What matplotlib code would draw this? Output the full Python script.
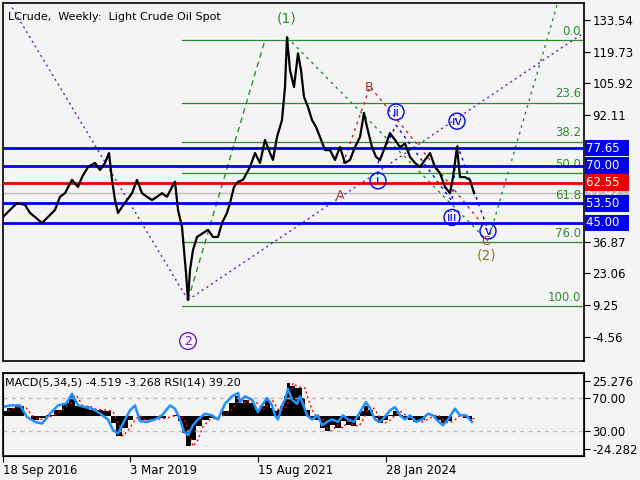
import matplotlib
matplotlib.use("Agg")
import matplotlib.pyplot as plt
import matplotlib.transforms as mtrans

# ---- data (x in weekly bar positions, price in USD) ----
px_x = [3,10,17,25,30,35,42,48,55,60,65,72,78,82,88,95,100,105,109,112,115,118,122,127,132,137,142,147,152,157,162,167,172,175,178,182,184,186,188,190,193,197,203,208,213,218,222,227,230,234,238,243,250,255,260,265,270,273,277,282,285,287,290,294,298,301,304,308,312,316,320,325,330,335,340,345,350,355,360,364,367,372,376,380,385,390,395,400,405,410,415,420,425,430,435,440,445,450,453,457,460,465,470,474]
price = [47.6,50.7,53.7,52.9,49.4,47.6,45.0,47.6,50.7,56.4,58.0,63.8,60.7,65.0,69.4,71.2,68.1,71.2,75.5,63.8,55.0,49.4,52.0,55.0,58.0,63.8,58.0,56.4,55.0,56.4,58.0,56.4,60.7,63.0,50.7,43.3,33.2,23.2,11.4,24.5,33.2,38.9,40.6,42.0,38.9,38.9,45.0,49.4,53.7,60.7,63.0,63.8,69.4,75.5,71.2,81.2,75.5,72.5,82.5,89.9,104.3,126.0,111.7,104.3,119.0,111.7,100.0,95.6,89.9,86.9,82.5,76.8,76.8,72.5,78.1,71.2,72.5,78.1,82.5,93.0,86.9,78.1,73.8,72.5,78.1,84.2,81.2,78.1,79.6,73.8,71.2,69.4,72.5,75.5,69.4,66.7,60.7,58.0,65.0,78.1,65.0,65.0,63.8,58.0]

ind_x = [3,10,20,27,35,42,50,58,66,72,78,85,92,98,108,113,118,125,130,135,140,147,155,162,170,175,180,184,188,193,198,205,212,218,225,232,238,240,245,252,258,262,267,272,275,278,282,285,288,292,297,300,303,307,312,318,322,327,332,338,343,348,354,358,362,366,370,375,380,386,390,395,400,405,410,416,422,428,433,438,443,448,455,460,466,472]
macd = [3.2,5.6,6.8,0,-2.9,-1.7,0.7,4.4,9.2,14.1,6.8,6.8,4.4,4.4,3.2,-5.3,-15,-9,-2.9,0,-2.9,-2.9,-2.4,-1.7,0,0.7,-4.1,-12.6,-22.4,-17.5,-7.8,-2.9,-1.7,0,3.2,9.2,14.1,9.2,11.7,9.2,4.4,6.8,11.7,5.6,3.2,4.4,6.8,14.1,23.8,21.4,20.2,20.2,12.9,4.4,-1.7,-2.9,-9,-11.4,-6.6,-9,-4.1,-6.6,-7.8,-2.9,3.2,6.8,4.4,-1.7,-5.3,-2.9,0.7,3.2,0.7,-1.7,-2.9,-4.9,-2.9,-0.5,0.7,-2.9,-5.3,-4.1,0,-0.5,-1.7,-2.9]
rsi = [59,61,61,47,41,39,51,61,63,75,61,59,57,53,44,31,27,44,55,61,42,41,44,49,61,57,44,29,25,37,44,51,49,44,63,72,76,65,72,68,53,61,70,61,49,44,61,68,81,68,63,72,63,49,44,49,37,41,44,41,49,44,41,49,57,65,57,44,41,49,55,59,49,44,49,41,44,51,49,42,37,44,57,49,49,41]

blue_levels = [77.65, 70.00, 53.50, 45.00]
red_level = 62.55
gray_level = 57.92
fib_hi, fib_lo = 124.8, 8.8
fib_ratios = [0.0, 23.6, 38.2, 50.0, 61.8, 76.0, 100.0]
price_ticks = [133.54, 119.73, 105.92, 92.11, 36.87, 23.06, 9.25, -4.56]
date_pos = [3, 130, 258, 386]
date_labels = ["18 Sep 2016", "3 Mar 2019", "15 Aug 2021", "28 Jan 2024"]

BG = "#f4f4f4"
W, H = 640, 480
fig = plt.figure(figsize=(6.4, 4.8), dpi=100, facecolor=BG)

def box(l, t, r, b):
    return [l / W, 1 - b / H, (r - l) / W, (b - t) / H]

ax = fig.add_axes(box(3, 3, 584, 361), facecolor=BG)
ax.set_xlim(3, 584)
ax.set_ylim(-15.2, 140.95)
for s in ax.spines.values():
    s.set_linewidth(1.2)
ax.yaxis.tick_right()
ax.set_yticks(price_ticks)
ax.set_yticklabels([f"{v:.2f}" for v in price_ticks], fontsize=8.5)
ax.tick_params(axis="y", length=4, pad=2)
ax.set_xticks([])

# fib lines
for r in fib_ratios:
    lv = fib_hi - (fib_hi - fib_lo) * r / 100
    ax.plot([182, 584], [lv, lv], color="#2e8b2e", lw=0.9, zorder=2)
    ax.text(581, lv + 1.0, f"{r:.1f}", color="#2e8b2e", fontsize=8.5, ha="right", va="bottom")

ax.axhline(gray_level, color="#bbbbbb", lw=1, zorder=2)
for lv in blue_levels:
    ax.axhline(lv, color="#0000ee", lw=2, zorder=3)
ax.axhline(red_level, color="#ee0000", lw=2, zorder=3)

ax.plot(px_x, price, color="black", lw=1.6, zorder=4)

# wave markup
ax.plot([12, 188], [139, 11.4], ls=(0, (1.5, 2.5)), color="#6a1fb0", lw=1)
ax.plot([188, 584], [11.4, 128], ls=(0, (1.5, 2.5)), color="#6a1fb0", lw=1)
ax.plot([188, 265], [11.4, 124.8], ls=(0, (4, 3)), color="#2e8b2e", lw=1)
ax.plot([287, 488], [126, 37], ls=(0, (2, 3)), color="#2e8b2e", lw=1)
ax.plot([490, 557], [40, 140], ls=(0, (2, 3)), color="#2e8b2e", lw=1)
ax.plot([343, 370, 487], [70.9, 104.5, 42.0], ls=(0, (2, 3)), color="#cc2222", lw=1)
ax.plot([378, 396, 452, 457, 488], [71.2, 87.7, 54.5, 79.4, 42.0], ls=(0, (2, 3)), color="#0000ee", lw=1)

circ = dict(boxstyle="circle,pad=0.12", fc="none", ec="#0000ee", lw=1)
for (xx, yy, t) in [(378, 63.4, "i"), (396, 93.4, "ii"), (452, 47.4, "iii"), (457, 89.4, "iv"), (488, 41.5, "v")]:
    ax.text(xx, yy, t, color="#0000ee", fontsize=9, ha="center", va="center", bbox=circ)
ax.text(188, -6.5, "2", color="#6a1fb0", fontsize=9, ha="center", va="center",
        bbox=dict(boxstyle="circle,pad=0.15", fc="none", ec="#6a1fb0", lw=1))
ax.text(287, 134, "(1)", color="#2e8b2e", fontsize=10, ha="center", va="center")
ax.text(487, 31, "(2)", color="#8b7a1a", fontsize=10, ha="center", va="center")
ax.text(340, 57, "A", color="#c04040", fontsize=9, ha="center", va="center")
ax.text(369, 104, "B", color="#a03030", fontsize=9, ha="center", va="center")
ax.text(486, 37, "C", color="#c04040", fontsize=9, ha="center", va="center")
ax.text(8, 135, "LCrude,  Weekly:  Light Crude Oil Spot", fontsize=8, ha="left", va="center")

# price boxes on right
tr = mtrans.blended_transform_factory(ax.transAxes, ax.transData)
for lv, c, tc in [(77.65, "#0000ee", "white"), (70.00, "#0000ee", "white"), (gray_level, "#c0c0c0", "white"),
                  (62.55, "#ee0000", "white"), (53.50, "#0000ee", "white"), (45.00, "#0000ee", "white")]:
    ax.text(1.004, lv, f"{lv:.2f}" + "  ", transform=tr, color=tc, fontsize=8.5, ha="left", va="center",
            bbox=dict(boxstyle="square,pad=0.15", fc=c, ec="none"), zorder=10, clip_on=False)

# indicator
ax2 = fig.add_axes(box(3, 373, 584, 456), facecolor=BG)
ax2.set_xlim(3, 584)
ax2.set_ylim(-29.4, 31.1)
ax2.fill_between(ind_x, macd, 0, color="black", lw=0, step="mid")
ax2.plot([x + 5 for x in ind_x], macd, color="red", ls=(0, (1.5, 2)), lw=1)
ax2.set_xticks(date_pos)
ax2.set_xticklabels(date_labels, fontsize=8.5, ha="left")
ax2.tick_params(axis="x", length=4, pad=2)
for s in ax2.spines.values():
    s.set_linewidth(1.2)
ax3 = ax2.twinx()
ax3.set_ylim(-0.3, 100.3)
ax3.axhline(70, color="#bbbbbb", ls=(0, (3, 3)), lw=1)
ax3.axhline(30, color="#bbbbbb", ls=(0, (3, 3)), lw=1)
ax3.plot(ind_x, rsi, color="#1e90ff", lw=1.8)
ax3.set_yticks([70, 30])
ax3.set_yticklabels(["70.00", "30.00"], fontsize=8.5)
ax3.tick_params(axis="y", length=4, pad=2)
ax2.yaxis.tick_right()
ax2.set_yticks([25.276, -24.282])
ax2.set_yticklabels(["25.276", "-24.282"], fontsize=8.5)
ax2.tick_params(axis="y", length=4, pad=2, left=False, labelleft=False, right=True, labelright=True)
ax2.text(5, 24, "MACD(5,34,5) -4.519 -3.268 RSI(14) 39.20", fontsize=8, ha="left", va="center")

fig.savefig("out.png", dpi=100, facecolor=BG)
